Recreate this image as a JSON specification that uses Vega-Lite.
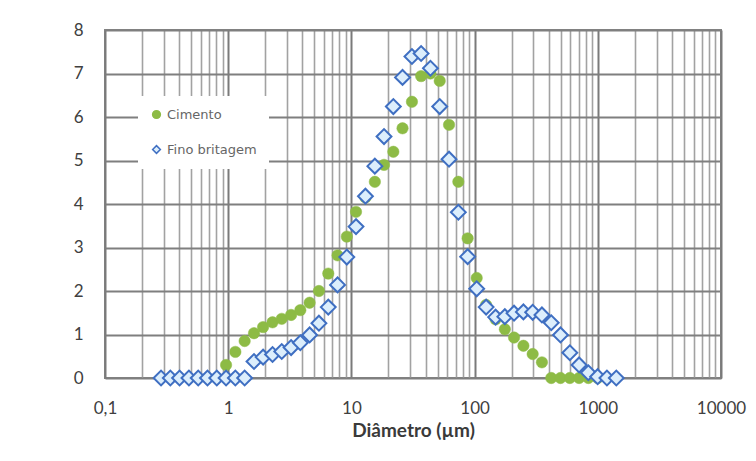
{
  "$schema": "https://vega.github.io/schema/vega-lite/v6.json",
  "width": 616,
  "height": 348,
  "autosize": {"type": "none"},
  "padding": {"left": 105, "top": 30, "right": 35, "bottom": 83},
  "background": "white",
  "config": {
    "view": {"stroke": "#858585", "strokeWidth": 2},
    "font": "Lato"
  },
  "datasets": {
    "cimento": [
      {"series": "Cimento", "d": 0.961, "v": 0.30},
      {"series": "Cimento", "d": 1.143, "v": 0.60},
      {"series": "Cimento", "d": 1.36, "v": 0.85},
      {"series": "Cimento", "d": 1.62, "v": 1.03},
      {"series": "Cimento", "d": 1.92, "v": 1.17},
      {"series": "Cimento", "d": 2.29, "v": 1.28},
      {"series": "Cimento", "d": 2.72, "v": 1.36},
      {"series": "Cimento", "d": 3.24, "v": 1.45},
      {"series": "Cimento", "d": 3.85, "v": 1.56},
      {"series": "Cimento", "d": 4.58, "v": 1.73},
      {"series": "Cimento", "d": 5.45, "v": 2.00},
      {"series": "Cimento", "d": 6.49, "v": 2.40},
      {"series": "Cimento", "d": 7.72, "v": 2.82},
      {"series": "Cimento", "d": 9.18, "v": 3.25},
      {"series": "Cimento", "d": 10.9, "v": 3.82},
      {"series": "Cimento", "d": 13.0, "v": 4.15},
      {"series": "Cimento", "d": 15.5, "v": 4.51},
      {"series": "Cimento", "d": 18.4, "v": 4.90},
      {"series": "Cimento", "d": 21.9, "v": 5.20},
      {"series": "Cimento", "d": 26.0, "v": 5.74},
      {"series": "Cimento", "d": 31.0, "v": 6.35},
      {"series": "Cimento", "d": 36.8, "v": 6.94},
      {"series": "Cimento", "d": 43.8, "v": 7.00},
      {"series": "Cimento", "d": 52.1, "v": 6.83},
      {"series": "Cimento", "d": 62.0, "v": 5.82},
      {"series": "Cimento", "d": 73.8, "v": 4.51},
      {"series": "Cimento", "d": 87.8, "v": 3.21},
      {"series": "Cimento", "d": 104, "v": 2.30},
      {"series": "Cimento", "d": 124, "v": 1.68},
      {"series": "Cimento", "d": 148, "v": 1.35},
      {"series": "Cimento", "d": 176, "v": 1.12},
      {"series": "Cimento", "d": 209, "v": 0.93},
      {"series": "Cimento", "d": 249, "v": 0.74},
      {"series": "Cimento", "d": 296, "v": 0.55},
      {"series": "Cimento", "d": 352, "v": 0.36},
      {"series": "Cimento", "d": 419, "v": 0},
      {"series": "Cimento", "d": 498, "v": 0},
      {"series": "Cimento", "d": 593, "v": 0},
      {"series": "Cimento", "d": 705, "v": 0},
      {"series": "Cimento", "d": 838, "v": 0},
      {"series": "Cimento", "d": 997, "v": 0}
    ],
    "fino": [
      {"series": "Fino britagem", "d": 0.285, "v": 0},
      {"series": "Fino britagem", "d": 0.339, "v": 0},
      {"series": "Fino britagem", "d": 0.403, "v": 0},
      {"series": "Fino britagem", "d": 0.480, "v": 0},
      {"series": "Fino britagem", "d": 0.571, "v": 0},
      {"series": "Fino britagem", "d": 0.679, "v": 0},
      {"series": "Fino britagem", "d": 0.808, "v": 0},
      {"series": "Fino britagem", "d": 0.961, "v": 0},
      {"series": "Fino britagem", "d": 1.143, "v": 0},
      {"series": "Fino britagem", "d": 1.36, "v": 0},
      {"series": "Fino britagem", "d": 1.62, "v": 0.38},
      {"series": "Fino britagem", "d": 1.92, "v": 0.48},
      {"series": "Fino britagem", "d": 2.29, "v": 0.54},
      {"series": "Fino britagem", "d": 2.72, "v": 0.61},
      {"series": "Fino britagem", "d": 3.24, "v": 0.70},
      {"series": "Fino britagem", "d": 3.85, "v": 0.81},
      {"series": "Fino britagem", "d": 4.58, "v": 0.99},
      {"series": "Fino britagem", "d": 5.45, "v": 1.26},
      {"series": "Fino britagem", "d": 6.49, "v": 1.63},
      {"series": "Fino britagem", "d": 7.72, "v": 2.14},
      {"series": "Fino britagem", "d": 9.18, "v": 2.78},
      {"series": "Fino britagem", "d": 10.9, "v": 3.48},
      {"series": "Fino britagem", "d": 13.0, "v": 4.18},
      {"series": "Fino britagem", "d": 15.5, "v": 4.87},
      {"series": "Fino britagem", "d": 18.4, "v": 5.55},
      {"series": "Fino britagem", "d": 21.9, "v": 6.24},
      {"series": "Fino britagem", "d": 26.0, "v": 6.91},
      {"series": "Fino britagem", "d": 31.0, "v": 7.39},
      {"series": "Fino britagem", "d": 36.8, "v": 7.46},
      {"series": "Fino britagem", "d": 43.8, "v": 7.12},
      {"series": "Fino britagem", "d": 52.1, "v": 6.24},
      {"series": "Fino britagem", "d": 62.0, "v": 5.03},
      {"series": "Fino britagem", "d": 73.8, "v": 3.81},
      {"series": "Fino britagem", "d": 87.8, "v": 2.79},
      {"series": "Fino britagem", "d": 104, "v": 2.05},
      {"series": "Fino britagem", "d": 124, "v": 1.63},
      {"series": "Fino britagem", "d": 148, "v": 1.40},
      {"series": "Fino britagem", "d": 176, "v": 1.41},
      {"series": "Fino britagem", "d": 209, "v": 1.49},
      {"series": "Fino britagem", "d": 249, "v": 1.52},
      {"series": "Fino britagem", "d": 296, "v": 1.51},
      {"series": "Fino britagem", "d": 352, "v": 1.45},
      {"series": "Fino britagem", "d": 419, "v": 1.27},
      {"series": "Fino britagem", "d": 498, "v": 0.99},
      {"series": "Fino britagem", "d": 593, "v": 0.58},
      {"series": "Fino britagem", "d": 705, "v": 0.30},
      {"series": "Fino britagem", "d": 838, "v": 0.12},
      {"series": "Fino britagem", "d": 997, "v": 0.03},
      {"series": "Fino britagem", "d": 1186, "v": 0},
      {"series": "Fino britagem", "d": 1413, "v": 0}
    ]
  },
  "encoding": {
    "x": {
      "field": "d",
      "type": "quantitative",
      "scale": {"type": "log", "domain": [0.1, 10000], "nice": false},
      "axis": {
        "title": "Diâmetro (µm)",
        "titleFont": "Lato",
        "titleFontSize": 19,
        "titleFontWeight": "bold",
        "titleColor": "#3a3a3a",
        "titlePadding": 5,
        "values": [0.1,0.2,0.3,0.4,0.5,0.6,0.7,0.8,0.9,1,2,3,4,5,6,7,8,9,10,20,30,40,50,60,70,80,90,100,200,300,400,500,600,700,800,900,1000,2000,3000,4000,5000,6000,7000,8000,9000,10000],
        "labelExpr": "abs(log(datum.value)/LN10 - round(log(datum.value)/LN10)) < 0.000001 ? replace(format(datum.value, '~g'), '.', ',') : ''",
        "labelOverlap": false,
        "labelFlush": false,
        "labelBound": false,
        "labelFont": "Lato",
        "labelFontSize": 17,
        "labelColor": "#404040",
        "labelPadding": 22,
        "ticks": false,
        "domain": false,
        "grid": true,
        "gridColor": {"condition": {"test": "abs(log(datum.value)/LN10 - round(log(datum.value)/LN10)) < 0.000001", "value": "#7a7a7a"}, "value": "#a2a2a2"},
        "gridWidth": {"condition": {"test": "abs(log(datum.value)/LN10 - round(log(datum.value)/LN10)) < 0.000001", "value": 2}, "value": 1.6}
      }
    },
    "y": {
      "field": "v",
      "type": "quantitative",
      "scale": {"domain": [0, 8], "nice": false},
      "axis": {
        "title": null,
        "values": [0,1,2,3,4,5,6,7,8],
        "labelFont": "Lato",
        "labelFontSize": 17,
        "labelColor": "#404040",
        "labelPadding": 22,
        "ticks": false,
        "domain": false,
        "grid": true,
        "gridColor": "#7f7f7f",
        "gridWidth": 2
      }
    },
    "shape": {
      "field": "series",
      "type": "nominal",
      "scale": {"domain": ["Cimento", "Fino britagem"], "range": ["circle", "diamond"]},
      "legend": {
        "title": null,
        "orient": "none",
        "legendX": 33,
        "legendY": 66,
        "fillColor": "white",
        "padding": 12,
        "rowPadding": 20,
        "labelFont": "DejaVu Sans",
        "labelFontSize": 13,
        "labelColor": "#666666",
        "labelOffset": 4,
        "symbolSize": 60,
        "symbolStrokeWidth": 1.5
      }
    },
    "fill": {
      "field": "series",
      "type": "nominal",
      "scale": {"domain": ["Cimento", "Fino britagem"], "range": ["#8dbb45", "#dceefc"]},
      "legend": {
        "title": null,
        "orient": "none",
        "legendX": 33,
        "legendY": 66,
        "fillColor": "white",
        "padding": 12,
        "rowPadding": 20,
        "labelFont": "DejaVu Sans",
        "labelFontSize": 13,
        "labelColor": "#666666",
        "labelOffset": 4,
        "symbolSize": 60,
        "symbolStrokeWidth": 1.5
      }
    },
    "stroke": {
      "field": "series",
      "type": "nominal",
      "scale": {"domain": ["Cimento", "Fino britagem"], "range": ["#8dbb45", "#3f6fc2"]},
      "legend": {
        "title": null,
        "orient": "none",
        "legendX": 33,
        "legendY": 66,
        "fillColor": "white",
        "padding": 12,
        "rowPadding": 20,
        "labelFont": "DejaVu Sans",
        "labelFontSize": 13,
        "labelColor": "#666666",
        "labelOffset": 4,
        "symbolSize": 60,
        "symbolStrokeWidth": 1.5
      }
    }
  },
  "layer": [
    {
      "data": {"name": "cimento"},
      "mark": {"type": "point", "filled": true, "size": 130, "strokeWidth": 0.5, "opacity": 1}
    },
    {
      "data": {"name": "fino"},
      "mark": {"type": "point", "filled": true, "size": 220, "strokeWidth": 2, "opacity": 1}
    }
  ]
}
